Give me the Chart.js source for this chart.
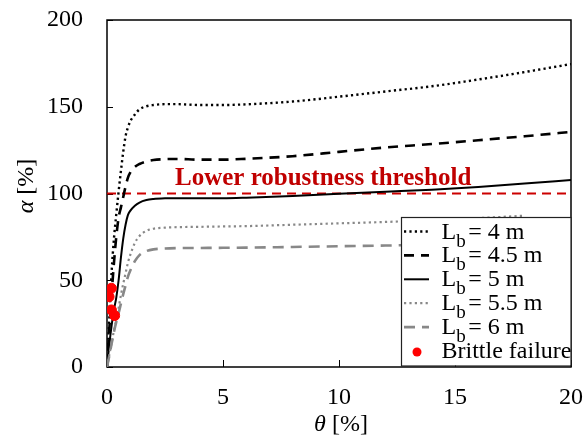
<!DOCTYPE html>
<html>
<head>
<meta charset="utf-8">
<script src="https://cdn.jsdelivr.net/npm/chart.js@4"></script>
<style>
  html, body { margin: 0; padding: 0; background: #fff; }
  canvas { display: block; }
</style>
</head>
<body>
<canvas id="robustness" width="584" height="439"></canvas>
<script>
// rotation theta [%] shared by all curves
var theta = [0, 0.1, 0.2, 0.3, 0.4, 0.5, 0.6, 0.7, 0.8, 0.9, 1.0, 1.2, 1.4, 1.7, 2.0, 2.5, 3, 4, 5, 6, 8, 10, 12, 14, 16, 18, 20];

// alpha [%] for each beam length Lb
var alphaLb4   = [0, 28, 55, 74, 88, 101, 113, 124, 133, 138, 141.5, 145.5, 148.5, 150.3, 151, 151.5, 151.5, 151, 151, 151.4, 153, 155.8, 158.8, 161.8, 165.7, 170, 174.6];
var alphaLb45  = [0, 22, 42, 60, 75, 86, 92, 98, 104, 109, 112, 115.3, 117, 118.5, 119.3, 119.8, 119.9, 119.5, 119.5, 120, 121.5, 124, 126.5, 128.5, 130.7, 133, 135.5];
var alphaLb5   = [0, 13, 24, 33, 40, 50, 63, 74, 82, 87.5, 90, 93, 94.8, 96.2, 96.8, 97.2, 97.3, 97.3, 97.3, 97.6, 98.6, 99.8, 101, 102.2, 103.8, 105.7, 107.8];
var alphaLb55  = [0, 7, 14, 21, 27.5, 34, 41.5, 48, 54, 60, 64.5, 71.5, 75.5, 78.5, 79.7, 80.3, 80.6, 80.8, 81, 81.2, 82, 82.8, 83.6, 84.6, 85.8, 87.2, null];
var alphaLb6   = [0, 6.5, 13.5, 20.3, 26, 31, 36.5, 42, 47, 52, 55.5, 61, 64.5, 66.8, 67.8, 68.3, 68.5, 68.6, 68.7, 68.8, 69.2, 69.6, 70, 70.5, 71, 71.7, 72.3];

// brittle failure points
var brittleTheta = [0.19, 0.09, 0.19, 0.33];
var brittleAlpha = [45.4, 40.5, 32.9, 29.6];

// lower robustness threshold
var thresholdTheta = [0, 20];
var thresholdAlpha = [100, 100];

var lengths = ['4', '4.5', '5', '5.5', '6'];
var xTicks = [0, 5, 10, 15, 20];
var yTicks = [0, 50, 100, 150, 200];

var serif = '"Liberation Serif", "DejaVu Serif", serif';

function pts(xs, ys) {
  return xs.map(function (x, i) { return { x: x, y: ys[i] }; });
}

function curve(label, ys, color, width, dash) {
  return {
    label: label,
    data: pts(theta, ys),
    borderColor: color,
    borderWidth: width,
    borderDash: dash,
    pointRadius: 0,
    showLine: true,
    fill: false,
    spanGaps: false,
    cubicInterpolationMode: 'monotone'
  };
}

var curves = [
  curve('Lb = 4 m',   alphaLb4,  '#000', 2.4, [2.2, 3.2]),
  curve('Lb = 4.5 m', alphaLb45, '#000', 2.6, [10, 7]),
  curve('Lb = 5 m',   alphaLb5,  '#000', 2,   []),
  curve('Lb = 5.5 m', alphaLb55, '#888', 2.2, [2.2, 3.2]),
  curve('Lb = 6 m',   alphaLb6,  '#888', 2.6, [11, 7])
];

var brittle = {
  label: 'Brittle failure',
  data: pts(brittleTheta, brittleAlpha),
  backgroundColor: '#ff0000',
  borderColor: '#ff0000',
  pointRadius: 5,
  showLine: false
};

var threshold = {
  label: 'threshold',
  data: pts(thresholdTheta, thresholdAlpha),
  borderColor: '#cc0000',
  borderWidth: 2,
  borderDash: [9, 6],
  pointRadius: 0,
  showLine: true
};

// box, inward ticks, axis titles, threshold note and legend
var decorations = {
  id: 'decorations',
  beforeDatasetsDraw: function (chart) {
    var c = chart.ctx, a = chart.chartArea;
    var xs = chart.scales.x, ys = chart.scales.y;
    c.save();
    c.strokeStyle = '#000';
    c.lineWidth = 1.5;
    c.strokeRect(a.left, a.top, a.right - a.left, a.bottom - a.top);
    c.lineWidth = 1;
    c.beginPath();
    xTicks.forEach(function (t) {
      var px = Math.round(xs.getPixelForValue(t)) + 0.5;
      c.moveTo(px, a.bottom); c.lineTo(px, a.bottom - 7);
    });
    yTicks.forEach(function (t) {
      var py = Math.round(ys.getPixelForValue(t)) + 0.5;
      c.moveTo(a.left, py); c.lineTo(a.left + 6, py);
    });
    c.stroke();
    c.restore();
  },
  afterDraw: function (chart) {
    var c = chart.ctx, a = chart.chartArea;
    var xs = chart.scales.x, ys = chart.scales.y;
    c.save();
    c.fillStyle = '#000';
    c.textBaseline = 'alphabetic';

    // x title: θ [%]
    var cx = (a.left + a.right) / 2 + 2;
    c.font = 'italic 24px ' + serif;
    var w1 = c.measureText('θ').width;
    c.font = '24px ' + serif;
    var w2 = c.measureText(' [%]').width;
    var x0 = cx - (w1 + w2) / 2;
    c.font = 'italic 24px ' + serif;
    c.fillText('θ', x0, 431);
    c.font = '24px ' + serif;
    c.fillText(' [%]', x0 + w1, 431);

    // y title: α [%]
    c.save();
    c.translate(33, 186);
    c.rotate(-Math.PI / 2);
    c.font = 'italic 24px ' + serif;
    w1 = c.measureText('α').width;
    c.font = '24px ' + serif;
    w2 = c.measureText(' [%]').width;
    x0 = -(w1 + w2) / 2;
    c.font = 'italic 24px ' + serif;
    c.fillText('α', x0, 0);
    c.font = '24px ' + serif;
    c.fillText(' [%]', x0 + w1, 0);
    c.restore();

    // threshold note
    c.fillStyle = '#c00000';
    c.font = 'bold 25px ' + serif;
    c.fillText('Lower robustness threshold', xs.getPixelForValue(2.93), ys.getPixelForValue(105));

    // legend
    var lx = 401, ly = 217, lw = a.right - lx, lh = a.bottom - ly - 1.5;
    c.fillStyle = '#fff';
    c.fillRect(lx, ly, lw, lh);
    c.strokeStyle = '#222';
    c.lineWidth = 1.2;
    c.strokeRect(lx + 0.5, ly + 0.5, lw - 0.5, lh);

    var rowBase = 238.5, rowStep = 23.9, textX = 441.5;
    curves.forEach(function (ds, i) {
      var base = rowBase + i * rowStep;
      var my = base - 7;
      c.save();
      c.strokeStyle = ds.borderColor;
      c.lineWidth = ds.borderWidth;
      c.setLineDash(ds.borderDash);
      c.beginPath();
      c.moveTo(404, my); c.lineTo(429, my);
      c.stroke();
      c.restore();

      c.fillStyle = '#000';
      c.font = '24px ' + serif;
      c.fillText('L', textX, base);
      var lW = c.measureText('L').width;
      c.font = '19px ' + serif;
      c.fillText('b', textX + lW, base + 8);
      var bW = c.measureText('b').width;
      c.font = '24px ' + serif;
      c.fillText('= ' + lengths[i] + ' m', textX + lW + bW + 2.5, base);
    });
    var bb = rowBase + 5 * rowStep;
    c.fillStyle = brittle.backgroundColor;
    c.beginPath();
    c.arc(417, bb - 6, 4.5, 0, Math.PI * 2);
    c.fill();
    c.fillStyle = '#000';
    c.font = '24px ' + serif;
    c.fillText(brittle.label, textX, bb);
    c.restore();
  }
};

// tick labels may overhang the plot box; the outer padding handles that
function noOverhang(scale) {
  scale.paddingTop = 0;
  scale.paddingBottom = 0;
  scale.paddingLeft = 0;
  scale.paddingRight = 0;
}

var ctx = document.getElementById('robustness').getContext('2d');
var chart = new Chart(ctx, {
  type: 'scatter',
  data: {
    // first dataset is drawn last, so the failure points sit on top
    datasets: [brittle].concat(curves.slice().reverse()).concat([threshold])
  },
  options: {
    responsive: false,
    animation: false,
    devicePixelRatio: 1,
    layout: { padding: { top: 20, right: 13, left: 0, bottom: 0 } },
    plugins: {
      legend: { display: false },
      tooltip: { enabled: false }
    },
    scales: {
      x: {
        type: 'linear',
        min: 0,
        max: 20,
        afterFit: function (scale) { scale.height = 72; noOverhang(scale); },
        ticks: {
          stepSize: 5,
          padding: 16,
          color: '#000',
          maxRotation: 0,
          font: { family: serif, size: 24 }
        },
        grid: { display: false, drawTicks: false },
        border: { display: false }
      },
      y: {
        min: 0,
        max: 200,
        afterFit: function (scale) { scale.width = 107; noOverhang(scale); },
        ticks: {
          stepSize: 50,
          padding: 24,
          color: '#000',
          font: { family: serif, size: 24 }
        },
        grid: { display: false, drawTicks: false },
        border: { display: false }
      }
    }
  },
  plugins: [decorations]
});
</script>
</body>
</html>
